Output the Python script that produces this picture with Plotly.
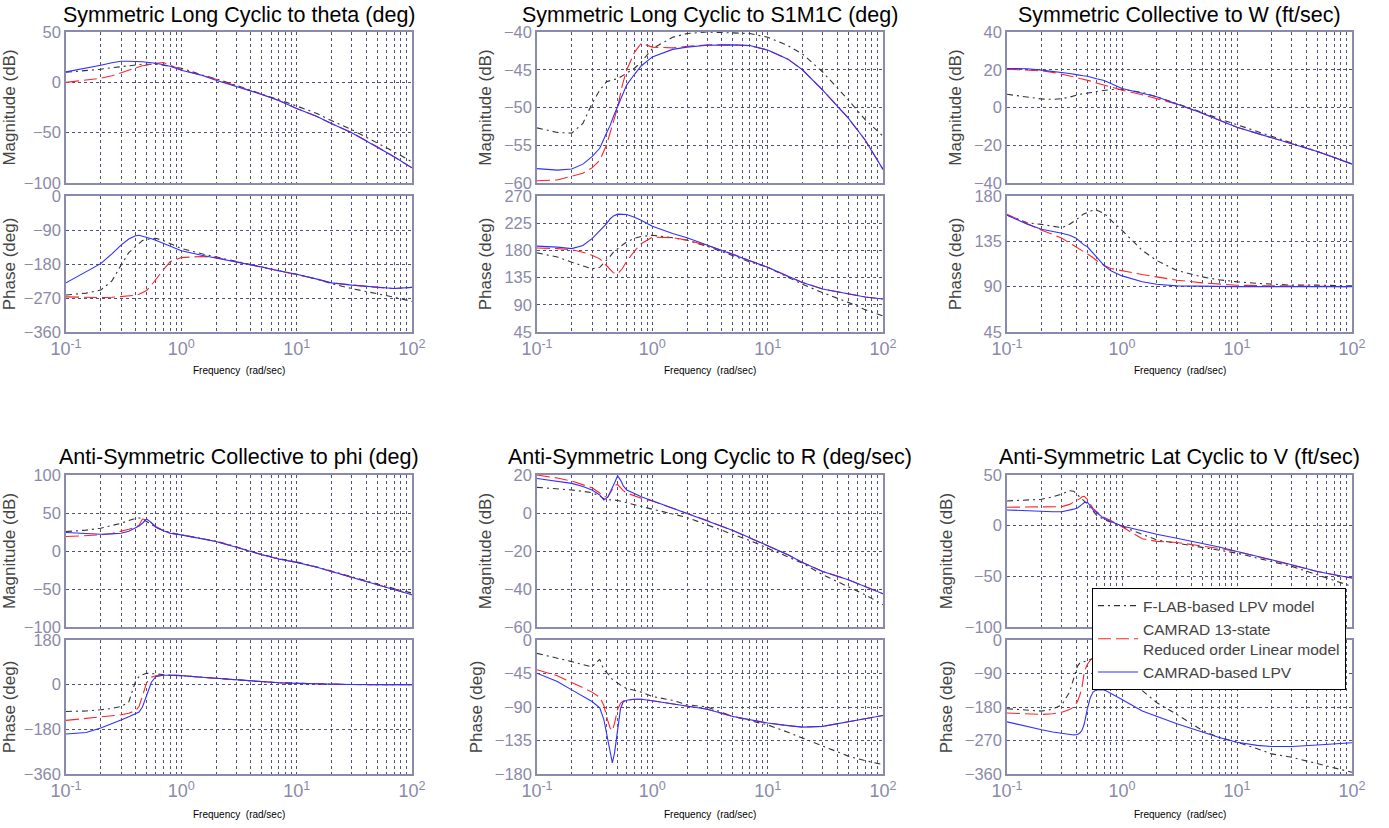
import plotly.graph_objects as go

# ---------------- data ----------------
FREQ_A = [0.1, 0.15, 0.2, 0.25, 0.3, 0.35, 0.4, 0.43, 0.46, 0.5, 0.55, 0.6, 0.7, 0.8,
          1, 1.5, 2, 3, 5, 7, 10, 15, 20, 30, 50, 70, 100]
FREQ_B = [0.1, 0.15, 0.2, 0.25, 0.3, 0.35, 0.38, 0.41, 0.43, 0.45, 0.47, 0.5, 0.53, 0.56,
          0.6, 0.7, 0.8, 1, 1.5, 2, 3, 5, 7, 10, 15, 20, 30, 50, 70, 100]

TITLES = ["Symmetric Long Cyclic to theta (deg)",
          "Symmetric Long Cyclic to S1M1C (deg)",
          "Symmetric Collective to W (ft/sec)",
          "Anti-Symmetric Collective to phi (deg)",
          "Anti-Symmetric Long Cyclic to R (deg/sec)",
          "Anti-Symmetric Lat Cyclic to V (ft/sec)"]

SERIES_NAMES = ["F-LAB-based LPV model",
                "CAMRAD 13-state<br>Reduced order Linear model",
                "CAMRAD-based LPV"]

X_TICKS = [0.1, 1, 10, 100]
X_TICK_TEXT = ["10<sup>-1</sup>", "10<sup>0</sup>", "10<sup>1</sup>", "10<sup>2</sup>"]

MAG_TICKS = [[-100, -50, 0, 50], [-60, -55, -50, -45, -40], [-40, -20, 0, 20, 40],
             [-100, -50, 0, 50, 100], [-60, -40, -20, 0, 20], [-100, -50, 0, 50]]
PHASE_TICKS = [[-360, -270, -180, -90, 0], [45, 90, 135, 180, 225, 270], [45, 90, 135, 180],
               [-360, -180, 0, 180], [-180, -135, -90, -45, 0], [-360, -270, -180, -90, 0]]

# Panel 1: Symmetric Long Cyclic to theta
P1_MAG_FLAB = [10, 11.5, 13, 14.5, 15.5, 16.5, 17.6, 18, 18, 18, 18, 18, 17, 16, 14, 7.5, 3.5, -3,
               -11.6, -17, -23.5, -31, -38, -47, -60, -69, -79]
P1_MAG_CAM13 = [0, 2, 4, 6.5, 9.5, 12, 14, 15.5, 16.5, 17, 18, 19, 19.7, 17, 12.5, 7, 3, -3.5,
                -12, -18, -26, -34, -41, -50, -64, -74, -85]
P1_MAG_CLPV = [10.4, 14, 17, 19.5, 21, 21, 21, 20.7, 20.4, 20, 19.5, 19, 17.5, 16, 12, 7, 2, -4,
               -12, -18, -26, -34, -41, -50, -64, -74, -85]
P1_PH_FLAB = [-262, -257, -249, -225, -183, -150, -134, -125, -118, -115, -113, -112, -118, -126,
              -139, -153, -161, -174, -188, -198, -207, -220, -232, -245, -258, -268, -279]
P1_PH_CAM13 = [-267, -269, -269, -268, -266, -265, -263, -260, -256, -250, -236, -220, -195, -174,
               -163, -160, -163, -174, -188, -198, -207, -220, -230, -236, -242, -245, -242]
P1_PH_CLPV = [-230, -201, -179, -153, -130, -114, -105, -104, -106, -110, -113, -117, -126, -134,
              -145, -157, -164, -174, -188, -198, -207, -220, -230, -236, -242, -245, -242]

# Panel 2: Symmetric Long Cyclic to S1M1C
P2_MAG_FLAB = [-52.7, -53.3, -53.4, -52.1, -49.5, -47.7, -46.6, -46.4, -46.3, -46.2, -45.8, -45.5,
               -44.8, -44, -42.2, -40.7, -40.2, -40, -40.1, -40.2, -40.7, -41.8, -42.9, -45.3,
               -49, -51.6, -53.8]
P2_MAG_CAM13 = [-59.7, -59.6, -59.1, -58.7, -58, -57, -55, -53.3, -51.8, -50, -47, -45, -42.7,
                -41.5, -42, -42.1, -41.9, -41.7, -41.7, -41.8, -42.4, -43.6, -45, -47.7, -51.4,
                -54.3, -58.2]
P2_MAG_CLPV = [-58.1, -58.3, -58.15, -57.5, -56.5, -55.4, -53.4, -52.4, -51.2, -49.9, -48.2, -47,
               -45.6, -44.5, -43.3, -42.3, -42, -41.75, -41.7, -41.8, -42.4, -43.6, -45, -47.7,
               -51.4, -54.3, -58.2]
P2_PH_FLAB = [176, 169, 160.5, 155, 149.5, 152, 163, 170, 177, 183, 189, 194, 200, 203, 205, 201,
              196.7, 186.7, 171.7, 161, 152, 135, 124, 110, 94, 82, 71.7]
P2_PH_CAM13 = [184, 183, 181, 177, 172, 166, 155, 148, 143, 141, 150, 162, 179, 191, 202, 201, 197,
               188, 174, 163, 152, 137, 127, 116, 108, 103, 99.5]
P2_PH_CLPV = [187, 185.5, 183, 188, 199.5, 212, 224, 232, 237, 240, 240, 239.4, 235, 230, 220, 208,
              201, 189, 174, 163, 152, 137, 127, 116, 108, 103, 99.5]

# Panel 3: Symmetric Collective to W
P3_MAG_FLAB = [7, 5.4, 4.5, 4.3, 4.7, 5.5, 6.6, 7, 7.3, 7.5, 8, 8.5, 9.2, 9.5, 9.6, 8, 5.7, 2.2,
               -2.6, -6, -9.1, -12.5, -15.3, -18.5, -23.3, -26.5, -29.8]
P3_MAG_CAM13 = [20.3, 20, 19.4, 18.6, 17.7, 16.9, 16, 15.4, 15, 14.5, 13.8, 13, 11.9, 10.8, 9.2,
                6.8, 4.8, 1.8, -3, -6.8, -10.5, -13.7, -16, -18.9, -23.3, -26.5, -30]
P3_MAG_CLPV = [20.7, 20.5, 19.8, 19.2, 18.6, 18, 17.4, 17, 16.8, 16.6, 15.8, 15.2, 14.3, 12.8,
               10.1, 7.5, 5.7, 1.8, -3, -6.8, -10.5, -13.7, -16, -18.9, -23.3, -26.5, -30]
P3_PH_FLAB = [161, 153.5, 151.8, 150, 148.5, 152, 156, 159, 162, 164, 165.5, 166, 162.8, 156, 146,
              126, 116, 106, 99.7, 96.8, 94.8, 93.3, 92.4, 91.5, 91.5, 91, 90.8]
P3_PH_CAM13 = [162, 152.8, 146, 142, 138, 133.5, 129.6, 127, 125, 123, 119.5, 116, 111, 108, 105.7,
               102, 99.7, 96.4, 93.8, 92.5, 91.4, 91, 90.8, 90.5, 90.3, 90.1, 90]
P3_PH_CLPV = [161, 152, 147, 145, 143, 141, 138, 135, 132, 129.6, 124.5, 119.6, 111, 105.7, 100.7,
              94.8, 92.4, 90.8, 90.2, 90, 90, 90, 90, 90, 90, 90, 90]

# Panel 4: Anti-Symmetric Collective to phi
P4_MAG_FLAB = [25.6, 27.5, 30, 33.5, 36.5, 40, 43, 43.5, 43, 38.7, 35, 31.3, 27, 24.3, 21.2, 16.5,
               13, 5.5, -4.5, -10, -14.5, -21, -26.5, -34, -43, -49.5, -55.4]
P4_MAG_CAM13 = [19, 20, 21.2, 23, 25.6, 28.5, 31.3, 34, 42, 41, 37, 32.2, 27, 23.4, 21.2, 16, 12.5,
                5, -5, -10.5, -15, -21.5, -27, -34.4, -43.5, -50, -57.5]
P4_MAG_CLPV = [24.3, 23, 22, 22.5, 23.4, 26, 30, 33, 36.5, 42, 37.4, 31.3, 26.5, 23.4, 21.2, 16,
               12.5, 5, -5, -10.5, -15, -21.5, -27, -34.4, -43.5, -50, -57.5]
P4_PH_FLAB = [-108, -106, -101, -96, -88, -70, 12, 33, 40, 46, 45, 43, 40, 38, 36.6, 30, 27, 21.4,
              12, 8, 5.4, 3, 1.3, 0.5, 0, 0, 0]
P4_PH_CAM13 = [-144, -136, -128, -125, -121.5, -115, -105, -88, -41, 8, 30, 36, 39, 39, 36.6, 30,
               26, 19, 11, 7.5, 5.4, 3, 1.3, 0.5, 0, 0, 0]
P4_PH_CLPV = [-199, -193, -175, -158, -142, -129, -118, -110, -90, -45, 10, 32, 38, 38, 36.6, 30,
              26, 19, 11, 7.5, 5.4, 3, 1.3, 0.5, 0, 0, 0]

# Panel 5: Anti-Symmetric Long Cyclic to R
P5_MAG_FLAB = [13.5, 12.8, 12.1, 11.4, 10.7, 9, 7.5, 7, 7, 6.9, 6.8, 6.6, 6.2, 5.8, 5.5, 4.5, 3.7,
               2, -0.5, -2.4, -6.3, -11, -14.5, -18.5, -23, -26.4, -32.5, -38.6, -43, -48.3]
P5_MAG_CAM13 = [20, 18.4, 16.8, 15, 13.3, 10.5, 8.8, 8.2, 10.5, 12.5, 14.5, 15, 13.2, 11.8, 10.5,
                8.9, 7.8, 6.3, 2.5, -0.1, -4, -9.2, -13, -17.3, -22, -26, -30.8, -35.1, -38.7, -42.5]
P5_MAG_CLPV = [18.2, 16.9, 15.6, 13.9, 12.1, 9.5, 6.8, 8.3, 10.8, 13.5, 15.8, 19.6, 17.3, 14.3,
               12.1, 10.3, 8.6, 6.5, 2.5, -0.1, -4, -9.2, -13, -17.3, -22, -26, -30.8, -35.1,
               -38.7, -42.5]
P5_PH_FLAB = [-18, -24, -29, -33, -36, -26, -40, -45, -49, -53, -55, -58, -61, -63, -65, -68, -70,
              -76, -81, -87, -90, -102.7, -108, -114, -124, -131.8, -143, -156, -162, -167.5]
P5_PH_CAM13 = [-40, -48, -57, -64, -70, -77, -88, -108, -118, -122, -112, -93, -85, -82, -80.4,
               -79.5, -79.5, -81.7, -86, -89.3, -93, -102.7, -107, -111.6, -115, -117, -116,
               -109.4, -105, -101.4]
P5_PH_CLPV = [-44.7, -55.8, -67, -75, -82.6, -91, -107, -133, -150, -165, -152, -119, -92, -83,
              -81, -79.5, -79.5, -81.7, -86, -89.3, -93, -102.7, -107, -111.6, -115, -117, -116,
              -109.4, -105, -101.4]

# Panel 6: Anti-Symmetric Lat Cyclic to V
P6_MAG_FLAB = [24.4, 25, 26, 28.5, 31.3, 34.5, 34, 30.5, 28.5, 26.5, 24.5, 21.5, 17.5, 14, 10.5,
               6, 3.5, -0.3, -8.4, -14, -17.3, -21.2, -24, -27.1, -32, -35.3, -40.2, -48.5, -54, -60]
P6_MAG_CAM13 = [18.2, 18.2, 18.2, 18.4, 18.8, 21, 23, 25, 26.7, 28.5, 29, 26, 21.5, 17.1, 14, 8, 5,
                -1, -13, -15.5, -16.6, -19.9, -22.5, -25.5, -30.5, -34.3, -38.6, -45.2, -48.5, -51.7]
P6_MAG_CLPV = [15.5, 14.5, 13.8, 13.8, 13.8, 15, 16.3, 17.5, 19, 21, 22.8, 23, 19.5, 15.5, 13, 7,
               4, -0.3, -5, -8.4, -12.4, -17.3, -21, -25.5, -30, -33.7, -38.6, -45.2, -48.5, -51.7]
P6_PH_FLAB = [-184.5, -189, -191, -186, -174, -140, -100, -70, -62, -60, -58, -55, -52, -50, -50,
              -55, -65, -85, -136, -168, -200, -243, -262, -274.5, -292, -306, -315, -333, -345,
              -355.5]
# beyond ~0.55 rad/s the CAMRAD 13-state phase is hidden (behind the legend / wrapped above 0 deg)
P6_PH_CAM13 = [-196, -199, -200, -198, -194, -187, -180, -165, -148, -125, -85, -65, -55, -45, -30,
               10, 295, 275, 224, 192, 160, 117, 98, 85.5, 68, 54, 45, 27, 15, 4.5]
P6_PH_CLPV = [-220, -233, -241, -247, -250, -253, -255, -254, -250, -242, -225, -185, -155, -140,
              -134, -134, -143, -160, -191, -205, -225, -247, -262, -274.5, -283, -286, -286, -282,
              -279, -276]

PANELS = [
    (FREQ_A, [P1_MAG_FLAB, P1_MAG_CAM13, P1_MAG_CLPV], [P1_PH_FLAB, P1_PH_CAM13, P1_PH_CLPV]),
    (FREQ_A, [P2_MAG_FLAB, P2_MAG_CAM13, P2_MAG_CLPV], [P2_PH_FLAB, P2_PH_CAM13, P2_PH_CLPV]),
    (FREQ_A, [P3_MAG_FLAB, P3_MAG_CAM13, P3_MAG_CLPV], [P3_PH_FLAB, P3_PH_CAM13, P3_PH_CLPV]),
    (FREQ_A, [P4_MAG_FLAB, P4_MAG_CAM13, P4_MAG_CLPV], [P4_PH_FLAB, P4_PH_CAM13, P4_PH_CLPV]),
    (FREQ_B, [P5_MAG_FLAB, P5_MAG_CAM13, P5_MAG_CLPV], [P5_PH_FLAB, P5_PH_CAM13, P5_PH_CLPV]),
    (FREQ_B, [P6_MAG_FLAB, P6_MAG_CAM13, P6_MAG_CLPV], [P6_PH_FLAB, P6_PH_CAM13, P6_PH_CLPV]),
]

# ---------------- styling ----------------
W, H = 1389, 828
FONT = "Liberation Sans, Arial, sans-serif"
STYLES = [dict(color="#333333", dash="6px,4px,2px,4px", width=1.1),
          dict(color="#ff2424", dash="13px,5px", width=1.1),
          dict(color="#3030ff", dash="solid", width=1.1)]
FRAME = "#8a8aae"
GRID = "#50507a"
GDASH = "3px,3px"
TICKC = "#8a8aa8"
MINOR = [m * d for d in (0.1, 1, 10) for m in range(2, 10)]

# positions in window pixels
COL_X = [(66, 412), (537, 883), (1007, 1352)]
ROW_Y = [((32, 183), (196, 332)), ((475, 627), (640, 774))]
TITLE_Y = [15, 457]
FREQ_LBL_Y = [370, 814]


def px_x(p):
    return p / W


def px_y(p):
    return 1 - p / H


fig = go.Figure()
layout = dict(width=W, height=H, margin=dict(l=0, r=0, t=0, b=0, autoexpand=False),
              paper_bgcolor="white", plot_bgcolor="white",
              font=dict(family=FONT), showlegend=True, annotations=[])

for i, (freq, mags, phases) in enumerate(PANELS):
    col, row = i % 3, i // 3
    x0, x1 = COL_X[col]
    (my0, my1), (py0, py1) = ROW_Y[row]
    for k, (ys, ydom, ticks, title) in enumerate([
            (mags, (px_y(my1), px_y(my0)), MAG_TICKS[i], "Magnitude (dB)"),
            (phases, (px_y(py1), px_y(py0)), PHASE_TICKS[i], "Phase (deg)")]):
        n = 2 * i + k + 1
        xa = "x" if n == 1 else f"x{n}"
        ya = "y" if n == 1 else f"y{n}"
        for s, vals in enumerate(ys):
            fig.add_trace(go.Scatter(
                x=freq, y=vals, mode="lines", xaxis=xa, yaxis=ya,
                name=SERIES_NAMES[s], line=STYLES[s],
                showlegend=(i == 5 and k == 0), hoverinfo="skip"))
        is_phase = (k == 1)
        layout[f"xaxis{n}"] = dict(
            type="log", range=[-1, 2], domain=[px_x(x0), px_x(x1)], automargin=False,
            anchor=ya, showline=True, linecolor=FRAME, linewidth=1.5, mirror=True,
            tickvals=X_TICKS, ticktext=X_TICK_TEXT, showticklabels=is_phase,
            tickfont=dict(size=18, color=TICKC, family=FONT), ticks="",
            showgrid=True, gridcolor=GRID, griddash=GDASH, gridwidth=0.8,
            minor=dict(tickvals=MINOR, showgrid=True, gridcolor=GRID,
                       griddash=GDASH, gridwidth=0.8, ticks=""),
            zeroline=False, fixedrange=True)
        layout[f"yaxis{n}"] = dict(
            range=[ticks[0], ticks[-1]], domain=list(ydom), anchor=xa, automargin=False,
            showline=True, linecolor=FRAME, linewidth=1.5, mirror=True,
            tickvals=ticks, tickfont=dict(size=16.5, color=TICKC, family=FONT), ticks="",
            showgrid=True, gridcolor=GRID, griddash=GDASH, gridwidth=0.8,
            zeroline=False, fixedrange=True,
            title=dict(text=title, font=dict(size=17, color="#444444", family=FONT),
                       standoff=8))
    layout["annotations"].append(dict(
        text=TITLES[i], x=px_x((x0 + x1) / 2), y=px_y(TITLE_Y[row]), xref="paper", yref="paper",
        showarrow=False, font=dict(size=21.5, color="black", family=FONT),
        xanchor="center", yanchor="middle"))
    layout["annotations"].append(dict(
        text="Frequency  (rad/sec)", x=px_x((x0 + x1) / 2), y=px_y(FREQ_LBL_Y[row]),
        xref="paper", yref="paper", showarrow=False,
        font=dict(size=10, color="black", family=FONT), xanchor="center", yanchor="middle"))

layout["legend"] = dict(x=px_x(1092), y=px_y(588), xanchor="left", yanchor="top",
                        bgcolor="white", bordercolor="black", borderwidth=1,
                        font=dict(size=15.5, color="#444444", family=FONT),
                        tracegroupgap=0, itemwidth=40)
fig.update_layout(**layout)
fig.write_html("out.html", config=dict(displayModeBar=False),
               post_script="document.body.style.margin='0';")
